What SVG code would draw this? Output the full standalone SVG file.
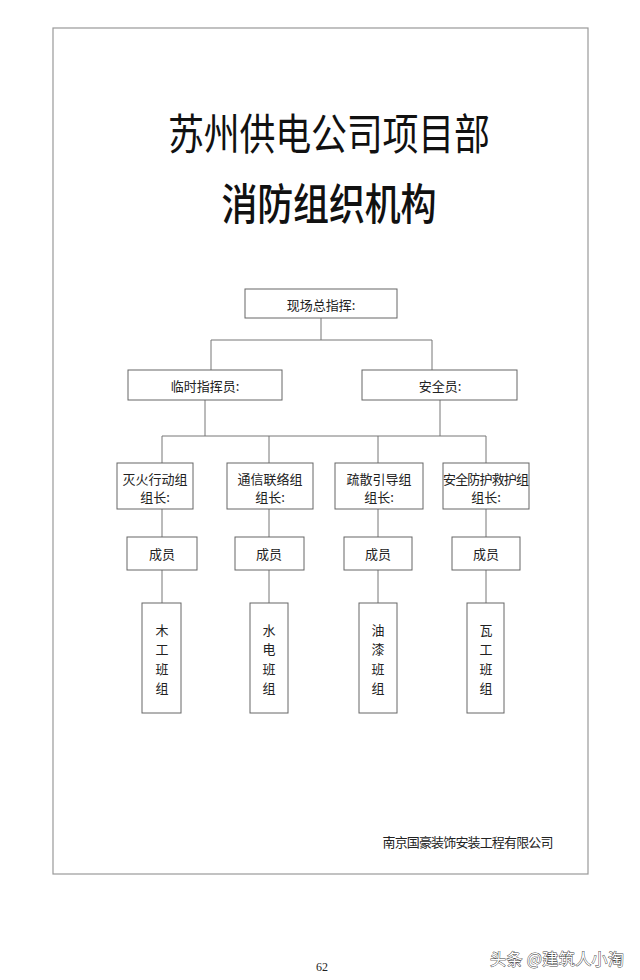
<svg xmlns="http://www.w3.org/2000/svg" width="640" height="980" viewBox="0 0 640 980">
<style>
.box{fill:#fff;stroke:#666;stroke-width:1}
.ln{fill:none;stroke:#777;stroke-width:1}
.t{font-family:"Noto Sans CJK SC","Noto Sans CJK JP",sans-serif;font-size:13px;fill:#222;text-anchor:middle;dominant-baseline:central}
.title{font-family:"Noto Sans CJK SC","Noto Sans CJK JP",sans-serif;font-size:36px;fill:#111;text-anchor:middle;dominant-baseline:central}
</style>
<rect x="0" y="0" width="640" height="980" fill="#fff"/>
<rect id="page" x="53" y="28" width="535" height="846" fill="none" stroke="#999" stroke-width="1.2"/>
<g id="title">
<text class="title" transform="translate(329,131) scale(1,1.2)" x="0" y="0" textLength="322">苏州供电公司项目部</text>
<text class="title" transform="translate(329,201) scale(1,1.2)" x="0" y="0" font-weight="500" textLength="215">消防组织机构</text>
</g>
<g id="connectors">
<path class="ln" d="M321 318V340M211 340H432M211 340V370M432 340V370"/>
<path class="ln" d="M205 400V436M440 400V436M162 436H486"/>
<path class="ln" d="M162 436V463M269 436V463M378 436V463M486 436V463"/>
<path class="ln" d="M162 509V537M269 509V537M378 509V537M486 509V537"/>
<path class="ln" d="M162 570V603M269 570V603M378 570V603M486 570V603"/>
</g>
<g id="n-commander"><rect class="box" x="245" y="289" width="152" height="29"/><text class="t" x="321" y="304">现场总指挥:</text></g>
<g id="n-temp"><rect class="box" x="128" y="370" width="154" height="30"/><text class="t" x="205" y="385">临时指挥员:</text></g>
<g id="n-safety"><rect class="box" x="362" y="370" width="155" height="30"/><text class="t" x="440" y="385">安全员:</text></g>
<g id="n-g1"><rect class="box" x="117" y="463" width="76" height="46"/><text class="t" x="155" y="478" font-size="12.5">灭火行动组</text><text class="t" x="155" y="496" font-size="12.5">组长:</text></g>
<g id="n-g2"><rect class="box" x="227" y="463" width="86" height="46"/><text class="t" x="270" y="478" font-size="12.5">通信联络组</text><text class="t" x="270" y="496" font-size="12.5">组长:</text></g>
<g id="n-g3"><rect class="box" x="335" y="463" width="88" height="46"/><text class="t" x="379" y="478" font-size="12.5">疏散引导组</text><text class="t" x="379" y="496" font-size="12.5">组长:</text></g>
<g id="n-g4"><rect class="box" x="443" y="463" width="86" height="46"/><text class="t" x="486" y="478" font-size="12.5" textLength="86">安全防护救护组</text><text class="t" x="486" y="496" font-size="12.5">组长:</text></g>
<g id="n-m1"><rect class="box" x="127" y="537" width="70" height="33"/><text class="t" x="162" y="553">成员</text></g>
<g id="n-m2"><rect class="box" x="235" y="537" width="69" height="33"/><text class="t" x="269" y="553">成员</text></g>
<g id="n-m3"><rect class="box" x="344" y="537" width="68" height="33"/><text class="t" x="378" y="553">成员</text></g>
<g id="n-m4"><rect class="box" x="452" y="537" width="68" height="33"/><text class="t" x="486" y="553">成员</text></g>
<g id="n-b1"><rect class="box" x="142" y="603" width="39" height="110"/><text class="t" x="162" y="629">木</text><text class="t" x="162" y="648">工</text><text class="t" x="162" y="668">班</text><text class="t" x="162" y="687">组</text></g>
<g id="n-b2"><rect class="box" x="250" y="603" width="38" height="110"/><text class="t" x="269" y="629">水</text><text class="t" x="269" y="648">电</text><text class="t" x="269" y="668">班</text><text class="t" x="269" y="687">组</text></g>
<g id="n-b3"><rect class="box" x="359" y="603" width="38" height="110"/><text class="t" x="378" y="629">油</text><text class="t" x="378" y="648">漆</text><text class="t" x="378" y="668">班</text><text class="t" x="378" y="687">组</text></g>
<g id="n-b4"><rect class="box" x="467" y="603" width="37" height="110"/><text class="t" x="486" y="629">瓦</text><text class="t" x="486" y="648">工</text><text class="t" x="486" y="668">班</text><text class="t" x="486" y="687">组</text></g>
<text class="t" x="468" y="841" font-size="12.2" textLength="171">南京国豪装饰安装工程有限公司</text>
<text x="322" y="971" font-family="Liberation Serif,serif" font-size="12" fill="#222" text-anchor="middle">62</text>
<text x="490" y="965" font-family="Noto Sans CJK SC,sans-serif" font-size="16" fill="#fff" stroke="#444" stroke-width="0.9" paint-order="stroke" textLength="134">头条 @建筑人小淘</text>
</svg>
